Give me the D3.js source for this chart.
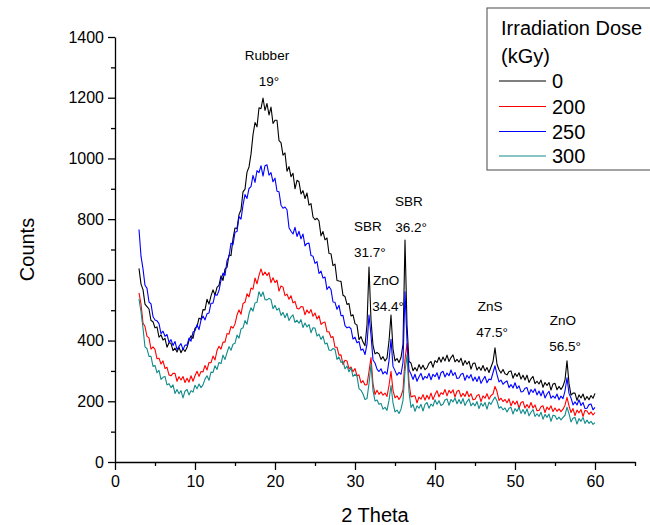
<!DOCTYPE html>
<html>
<head>
<meta charset="utf-8">
<script src="https://cdn.jsdelivr.net/npm/d3@7"></script>
<style>
  body { margin: 0; background: #fff; }
  text { font-family: "Liberation Sans", Arial, sans-serif; }
</style>
</head>
<body>
<div class="chart"></div>
<script>
const w = 650;
const h = 525;

// 2 theta sampling (degrees)
const theta = [
  3,3.25,3.5,3.75,4,4.25,4.5,4.75,
  5,5.25,5.5,5.75,6,6.25,6.5,6.75,
  7,7.25,7.5,7.75,8,8.25,8.5,8.75,
  9,9.25,9.5,9.75,10,10.25,10.5,10.75,
  11,11.25,11.5,11.75,12,12.25,12.5,12.75,
  13,13.25,13.5,13.75,14,14.25,14.5,14.75,
  15,15.25,15.5,15.75,16,16.25,16.5,16.75,
  17,17.25,17.5,17.75,18,18.25,18.5,18.75,
  19,19.25,19.5,19.75,20,20.25,20.5,20.75,
  21,21.25,21.5,21.75,22,22.25,22.5,22.75,
  23,23.25,23.5,23.75,24,24.25,24.5,24.75,
  25,25.25,25.5,25.75,26,26.25,26.5,26.75,
  27,27.25,27.5,27.75,28,28.25,28.5,28.75,
  29,29.25,29.5,29.75,30,30.25,30.5,30.75,
  31,31.25,31.5,31.75,32,32.25,32.5,32.75,
  33,33.25,33.5,33.75,34,34.25,34.5,34.75,
  35,35.25,35.5,35.75,36,36.25,36.5,36.75,
  37,37.25,37.5,37.75,38,38.25,38.5,38.75,
  39,39.25,39.5,39.75,40,40.25,40.5,40.75,
  41,41.25,41.5,41.75,42,42.25,42.5,42.75,
  43,43.25,43.5,43.75,44,44.25,44.5,44.75,
  45,45.25,45.5,45.75,46,46.25,46.5,46.75,
  47,47.25,47.5,47.75,48,48.25,48.5,48.75,
  49,49.25,49.5,49.75,50,50.25,50.5,50.75,
  51,51.25,51.5,51.75,52,52.25,52.5,52.75,
  53,53.25,53.5,53.75,54,54.25,54.5,54.75,
  55,55.25,55.5,55.75,56,56.25,56.5,56.75,
  57,57.25,57.5,57.75,58,58.25,58.5,58.75,
  59,59.25,59.5,59.75,60
];

// counts, 0 kGy
const dose0 = [
  638,586,568,520,512,504,466,462,
  442,445,411,419,402,407,378,393,
  391,367,375,362,378,360,374,364,
  377,400,416,407,441,446,474,470,
  502,501,536,520,547,567,550,575,
  582,613,598,636,641,682,680,736,
  771,769,815,831,890,899,955,972,
  1014,1078,1118,1104,1167,1164,1199,1158,
  1181,1143,1169,1115,1126,1126,1059,1052,
  1011,1018,958,973,940,951,900,928,
  923,883,894,868,886,846,851,807,
  798,803,794,745,759,732,738,687,
  686,647,652,598,596,595,549,545,
  519,522,481,485,456,451,403,413,
  395,383,452,642,468,384,356,361,
  356,338,347,333,342,398,484,372,
  333,341,328,344,388,731,452,331,
  326,301,311,300,321,306,319,304,
  310,325,331,312,334,328,345,329,
  346,333,352,331,344,353,330,338,
  329,342,318,334,322,332,306,325,
  326,303,313,302,318,300,311,295,
  313,330,376,322,304,293,305,291,
  287,298,300,276,292,282,294,273,
  286,270,286,262,274,282,258,266,
  257,270,246,262,252,262,237,257,
  259,238,249,239,250,270,333,259,
  220,227,227,203,221,211,224,204,
  216,205,219,210,226
];

// counts, 200 kGy
const dose200 = [
  557,520,458,446,414,409,372,379,
  371,340,342,323,333,308,312,287,
  284,292,292,266,281,270,282,262,
  276,263,284,266,284,299,282,298,
  297,318,303,328,327,349,336,367,
  381,372,395,395,423,421,447,441,
  455,484,501,487,522,526,554,544,
  573,569,606,587,615,636,615,626,
  614,624,591,607,591,599,563,580,
  576,548,553,536,548,524,529,506,
  504,512,511,485,501,490,502,480,
  491,471,482,453,459,461,429,429,
  410,413,378,378,352,353,321,335,
  333,307,313,297,308,284,287,261,
  268,254,255,298,344,258,222,236,
  223,231,220,227,216,252,299,236,
  211,218,206,217,238,338,391,262,
  214,217,218,195,214,207,222,204,
  220,207,227,206,222,235,215,228,
  223,239,218,236,227,238,214,233,
  236,215,226,216,233,215,225,205,
  207,219,222,199,218,210,225,207,
  219,224,249,232,203,210,199,206,
  195,208,185,201,190,201,177,196,
  199,178,189,178,196,178,188,169,
  170,182,185,163,181,172,185,166,
  178,167,175,166,174,187,213,185,
  163,176,153,171,162,173,150,170,
  168,157,165,155,163
];

// counts, 250 kGy
const dose250 = [
  766,678,636,582,572,527,521,479,
  468,465,456,423,431,414,420,394,
  403,384,397,370,381,390,370,385,
  385,408,398,428,432,452,436,467,
  481,468,488,491,523,523,552,549,
  565,599,622,615,663,677,721,716,
  757,759,808,800,846,881,868,901,
  907,944,921,960,953,976,942,976,
  979,945,953,923,935,892,890,846,
  836,840,831,772,760,751,773,743,
  760,735,751,712,720,721,680,678,
  654,660,621,629,606,609,568,578,
  568,527,526,503,516,482,483,449,
  442,445,439,405,411,393,397,368,
  372,354,388,484,418,336,326,306,
  298,307,290,298,289,334,404,315,
  301,286,295,289,328,561,398,303,
  290,272,289,266,281,292,271,282,
  276,292,271,289,281,294,272,294,
  299,280,293,284,303,285,295,275,
  277,289,292,269,286,276,288,267,
  280,265,282,259,272,282,261,273,
  271,294,317,288,264,270,256,263,
  267,245,255,244,261,242,251,231,
  232,243,245,222,239,229,241,221,
  234,218,235,211,224,233,210,218,
  210,224,205,217,209,234,277,226,
  211,188,198,188,205,186,196,176,
  177,189,191,172,180
];

// counts, 300 kGy
const dose300 = [
  537,495,441,379,373,348,348,315,
  318,294,302,272,279,282,254,258,
  245,254,226,239,225,235,211,233,
  239,221,235,230,253,241,257,245,
  254,273,284,269,296,295,317,305,
  328,324,352,338,360,380,368,388,
  391,418,408,438,442,466,454,489,
  508,497,524,526,561,545,560,535,
  534,539,535,505,516,500,507,483,
  493,475,490,466,478,485,460,467,
  457,469,443,458,445,453,426,442,
  441,415,421,404,415,389,392,369,
  367,374,371,338,346,328,332,307,
  316,297,310,282,289,282,242,236,
  224,206,209,258,323,235,201,204,
  190,193,174,180,170,203,252,195,
  165,171,160,174,203,298,353,232,
  180,190,167,185,177,190,168,190,
  196,177,191,184,205,190,202,186,
  190,204,208,187,206,198,211,192,
  206,192,209,186,199,208,185,194,
  185,199,176,194,184,196,174,197,
  190,203,214,201,177,182,172,178,
  165,177,180,158,176,167,180,160,
  173,158,175,152,164,173,150,159,
  150,164,141,157,147,158,134,154,
  152,140,148,139,147,154,181,159,
  132,144,147,125,143,134,147,127,
  138,127,134,124,130
];

const doses = ["0", "200", "250", "300"];
const colors = ["#000000", "#ff0000", "#0000ff", "#128a8a"];
const seriesList = [dose0, dose200, dose250, dose300];

const xMajor = [0, 10, 20, 30, 40, 50, 60];
const xMinor = [5, 15, 25, 35, 45, 55, 65];
const yMajor = [0, 200, 400, 600, 800, 1000, 1200, 1400];
const yMinor = [100, 300, 500, 700, 900, 1100, 1300];

// peak annotations: name, angle text, anchor (theta, counts)
const peakNames  = ["Rubber", "SBR", "ZnO", "SBR", "ZnS", "ZnO"];
const peakAngles = ["19°", "31.7°", "34.4°", "36.2°", "47.5°", "56.5°"];
const peakTheta  = [19, 31.6, 33.9, 36.75, 46.9, 56];
const peakCount  = [1340, 777, 600, 860, 514, 468];

const svg = d3.select(".chart")
  .append("svg")
  .attr("width", w)
  .attr("height", h);

const xScale = d3.scaleLinear().domain([0, 65]).range([115, 635]);
const yScale = d3.scaleLinear().domain([0, 1400]).range([462, 37]);

// curves
const line = d3.line()
  .x((d, i) => xScale(theta[i]))
  .y(d => yScale(d));

seriesList.forEach((s, k) => {
  svg.append("path")
     .datum(s)
     .attr("fill", "none")
     .attr("stroke", colors[k])
     .attr("stroke-width", 1.1)
     .attr("stroke-linejoin", "round")
     .attr("d", line);
});

// axes
const xAxis = d3.axisBottom(xScale).tickValues(xMajor).tickSize(8).tickSizeOuter(0).tickPadding(6).tickFormat(d3.format("d"));
const xAxisMinor = d3.axisBottom(xScale).tickValues(xMinor).tickSize(4).tickFormat("");
const yAxis = d3.axisLeft(yScale).tickValues(yMajor).tickSize(7).tickSizeOuter(0).tickPadding(4).tickFormat(d3.format("d"));
const yAxisMinor = d3.axisLeft(yScale).tickValues(yMinor).tickSize(4).tickFormat("");

const gx = svg.append("g").attr("transform", "translate(0," + yScale(0) + ")").call(xAxis);
const gxm = svg.append("g").attr("transform", "translate(0," + yScale(0) + ")").call(xAxisMinor);
const gy = svg.append("g").attr("transform", "translate(" + xScale(0) + ",0)").call(yAxis);
const gym = svg.append("g").attr("transform", "translate(" + xScale(0) + ",0)").call(yAxisMinor);

gxm.select(".domain").remove();
gym.select(".domain").remove();

[gx, gxm, gy, gym].forEach(g => {
  g.selectAll("path, line").attr("stroke", "#000").attr("stroke-width", 1.3);
  g.selectAll("text")
   .attr("fill", "#000")
   .style("font-size", "16px")
   .style("font-family", "'Liberation Sans', Arial, sans-serif");
});

// axis titles
svg.append("text")
   .attr("x", (xScale(0) + xScale(65)) / 2)
   .attr("y", 522)
   .attr("text-anchor", "middle")
   .style("font-size", "20px")
   .text("2 Theta");

svg.append("text")
   .attr("transform", "translate(34," + ((yScale(0) + yScale(1400)) / 2) + ") rotate(-90)")
   .attr("text-anchor", "middle")
   .style("font-size", "20px")
   .text("Counts");

// peak labels
peakNames.forEach((name, i) => {
  const px = xScale(peakTheta[i]);
  const py = yScale(peakCount[i]);
  svg.append("text")
     .attr("x", px)
     .attr("y", py)
     .attr("dy", "0.35em")
     .attr("text-anchor", "middle")
     .style("font-size", "13.5px")
     .text(name);
  svg.append("text")
     .attr("x", px + 2)
     .attr("y", py + 26)
     .attr("dy", "0.35em")
     .attr("text-anchor", "middle")
     .style("font-size", "13.5px")
     .text(peakAngles[i]);
});

// legend
const legend = svg.append("g");
legend.append("rect")
   .attr("x", 487)
   .attr("y", 8)
   .attr("width", 180)
   .attr("height", 162)
   .attr("fill", "#fff")
   .attr("stroke", "#666")
   .attr("stroke-width", 1.2);

legend.append("text").attr("x", 501).attr("y", 35).style("font-size", "20px").text("Irradiation Dose");
legend.append("text").attr("x", 501).attr("y", 63).style("font-size", "20px").text("(kGy)");

const legendY = [81, 106.5, 131.5, 156];
doses.forEach((d, k) => {
  legend.append("line")
     .attr("x1", 499).attr("x2", 546)
     .attr("y1", legendY[k]).attr("y2", legendY[k])
     .attr("stroke", colors[k])
     .attr("stroke-width", 1);
  legend.append("text")
     .attr("x", 552)
     .attr("y", legendY[k])
     .attr("dy", "0.35em")
     .style("font-size", "20px")
     .text(d);
});
</script>
</body>
</html>
